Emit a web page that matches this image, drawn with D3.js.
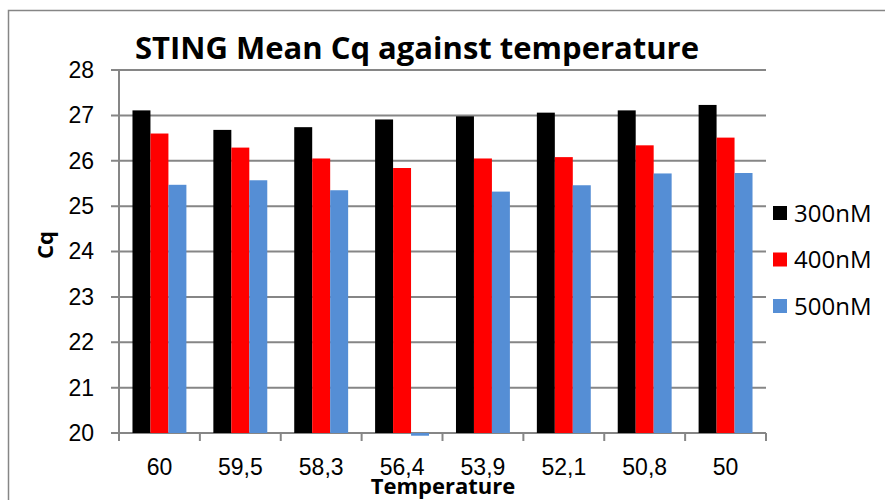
<!DOCTYPE html>
<html>
<head>
<meta charset="utf-8">
<script src="https://cdn.jsdelivr.net/npm/d3@7"></script>
<style>
  body { margin: 0; background: #fff; }
  svg { font-family: 'Open Sans', sans-serif; }
</style>
</head>
<body>
<svg id="chart" width="885" height="500"></svg>
<script>
// temperatures (x categories)
var temperatures = ['60', '59,5', '58,3', '56,4', '53,9', '52,1', '50,8', '50'];
var seriesNames = ['300nM', '400nM', '500nM'];
var seriesColors = ['#000000', '#ff0000', '#558ed5'];

// mean Cq
var cq300 = [27.11, 26.68, 26.74, 26.91, 26.98, 27.06, 27.11, 27.23];
var cq400 = [26.60, 26.29, 26.05, 25.84, 26.05, 26.08, 26.34, 26.51];
var cq500 = [25.47, 25.57, 25.35, 19.94, 25.32, 25.46, 25.72, 25.73];

var yTicks = [20, 21, 22, 23, 24, 25, 26, 27, 28];

var chart = {
  margin: { top: 70, right: 119, bottom: 67, left: 119 },

  init: function() {
    var self = this;
    self.svg = d3.select('#chart');
    self.width = 885 - self.margin.left - self.margin.right;
    self.height = 500 - self.margin.top - self.margin.bottom;

    // outer chart border
    self.svg.append('rect')
      .attr('x', 8.5).attr('y', 10.5)
      .attr('width', 900).attr('height', 520)
      .attr('fill', 'none')
      .attr('stroke', '#868686')
      .attr('stroke-width', 1.5);

    self.g = self.svg.append('g')
      .attr('transform', 'translate(' + self.margin.left + ',' + self.margin.top + ')');

    self.x = d3.scaleBand().domain(temperatures).range([0, self.width]);
    self.xs = d3.scaleBand().domain(seriesNames)
      .range([0, self.x.bandwidth()])
      .paddingOuter(0.75);
    self.y = d3.scaleLinear().domain([20, 28]).range([self.height, 0]);

    self.drawAxes();
    self.drawBars();
    self.drawLegend();
    self.drawTitles();
  },

  drawAxes: function() {
    var self = this;

    // gridlines
    self.g.append('g').selectAll('line')
      .data(yTicks)
      .enter().append('line')
      .attr('x1', -8).attr('x2', self.width)
      .attr('y1', function(d) { return self.y(d); })
      .attr('y2', function(d) { return self.y(d); })
      .attr('stroke', '#868686')
      .attr('stroke-width', 2);

    var yAxis = self.g.append('g')
      .call(d3.axisLeft(self.y).tickValues(yTicks).tickSize(0).tickPadding(25));
    yAxis.select('.domain').remove();
    yAxis.selectAll('text')
      .style('font-size', '23px')
      .attr('fill', '#000');

    self.g.append('line')
      .attr('x1', 0).attr('x2', 0)
      .attr('y1', 0).attr('y2', self.height)
      .attr('stroke', '#868686').attr('stroke-width', 2);

    var xAxis = self.g.append('g')
      .attr('transform', 'translate(0,' + self.height + ')')
      .call(d3.axisBottom(self.x).tickSize(0).tickPadding(26));
    xAxis.select('.domain').remove();
    xAxis.selectAll('text')
      .style('font-size', '23px')
      .attr('fill', '#000');

    // category boundary ticks
    var bounds = temperatures.map(function(t) { return self.x(t); }).concat([self.width]);
    self.g.append('g').selectAll('line')
      .data(bounds)
      .enter().append('line')
      .attr('x1', function(d) { return d; })
      .attr('x2', function(d) { return d; })
      .attr('y1', self.height).attr('y2', self.height + 8)
      .attr('stroke', '#868686').attr('stroke-width', 2);
  },

  drawBars: function() {
    var self = this;
    var values = [cq300, cq400, cq500];

    var groups = self.g.selectAll('.series')
      .data(seriesNames)
      .enter().append('g')
      .attr('class', 'series')
      .attr('fill', function(d, i) { return seriesColors[i]; });

    groups.selectAll('rect')
      .data(function(d, i) {
        return values[i].map(function(v, j) {
          return { name: d, temp: temperatures[j], value: v };
        });
      })
      .enter().append('rect')
      .attr('x', function(d) { return self.x(d.temp) + self.xs(d.name); })
      .attr('width', self.xs.bandwidth())
      .attr('y', function(d) { return self.y(Math.max(d.value, 20)); })
      .attr('height', function(d) {
        return Math.abs(self.y(d.value) - self.y(20));
      });
  },

  drawLegend: function() {
    var self = this;
    var legend = self.svg.append('g')
      .attr('transform', 'translate(773,206)');

    var items = legend.selectAll('g')
      .data(seriesNames)
      .enter().append('g')
      .attr('transform', function(d, i) { return 'translate(0,' + (i * 46.5) + ')'; });

    items.append('rect')
      .attr('width', 14).attr('height', 14)
      .attr('fill', function(d, i) { return seriesColors[i]; });

    items.append('text')
      .attr('x', 21).attr('y', 15.5)
      .style('font-size', '24px')
      .text(function(d) { return d; });
  },

  drawTitles: function() {
    var self = this;

    self.svg.append('text')
      .attr('x', 417).attr('y', 59)
      .attr('text-anchor', 'middle')
      .style('font-size', '31px')
      .style('font-weight', 'bold')
      .text('STING Mean Cq against temperature');

    self.svg.append('text')
      .attr('transform', 'translate(53,245) rotate(-90)')
      .attr('text-anchor', 'middle')
      .style('font-size', '22px')
      .style('font-weight', 'bold')
      .text('Cq');

    self.svg.append('text')
      .attr('x', 443).attr('y', 494)
      .attr('text-anchor', 'middle')
      .style('font-size', '22px')
      .style('font-weight', 'bold')
      .text('Temperature');
  }
};

chart.init();
</script>
</body>
</html>
